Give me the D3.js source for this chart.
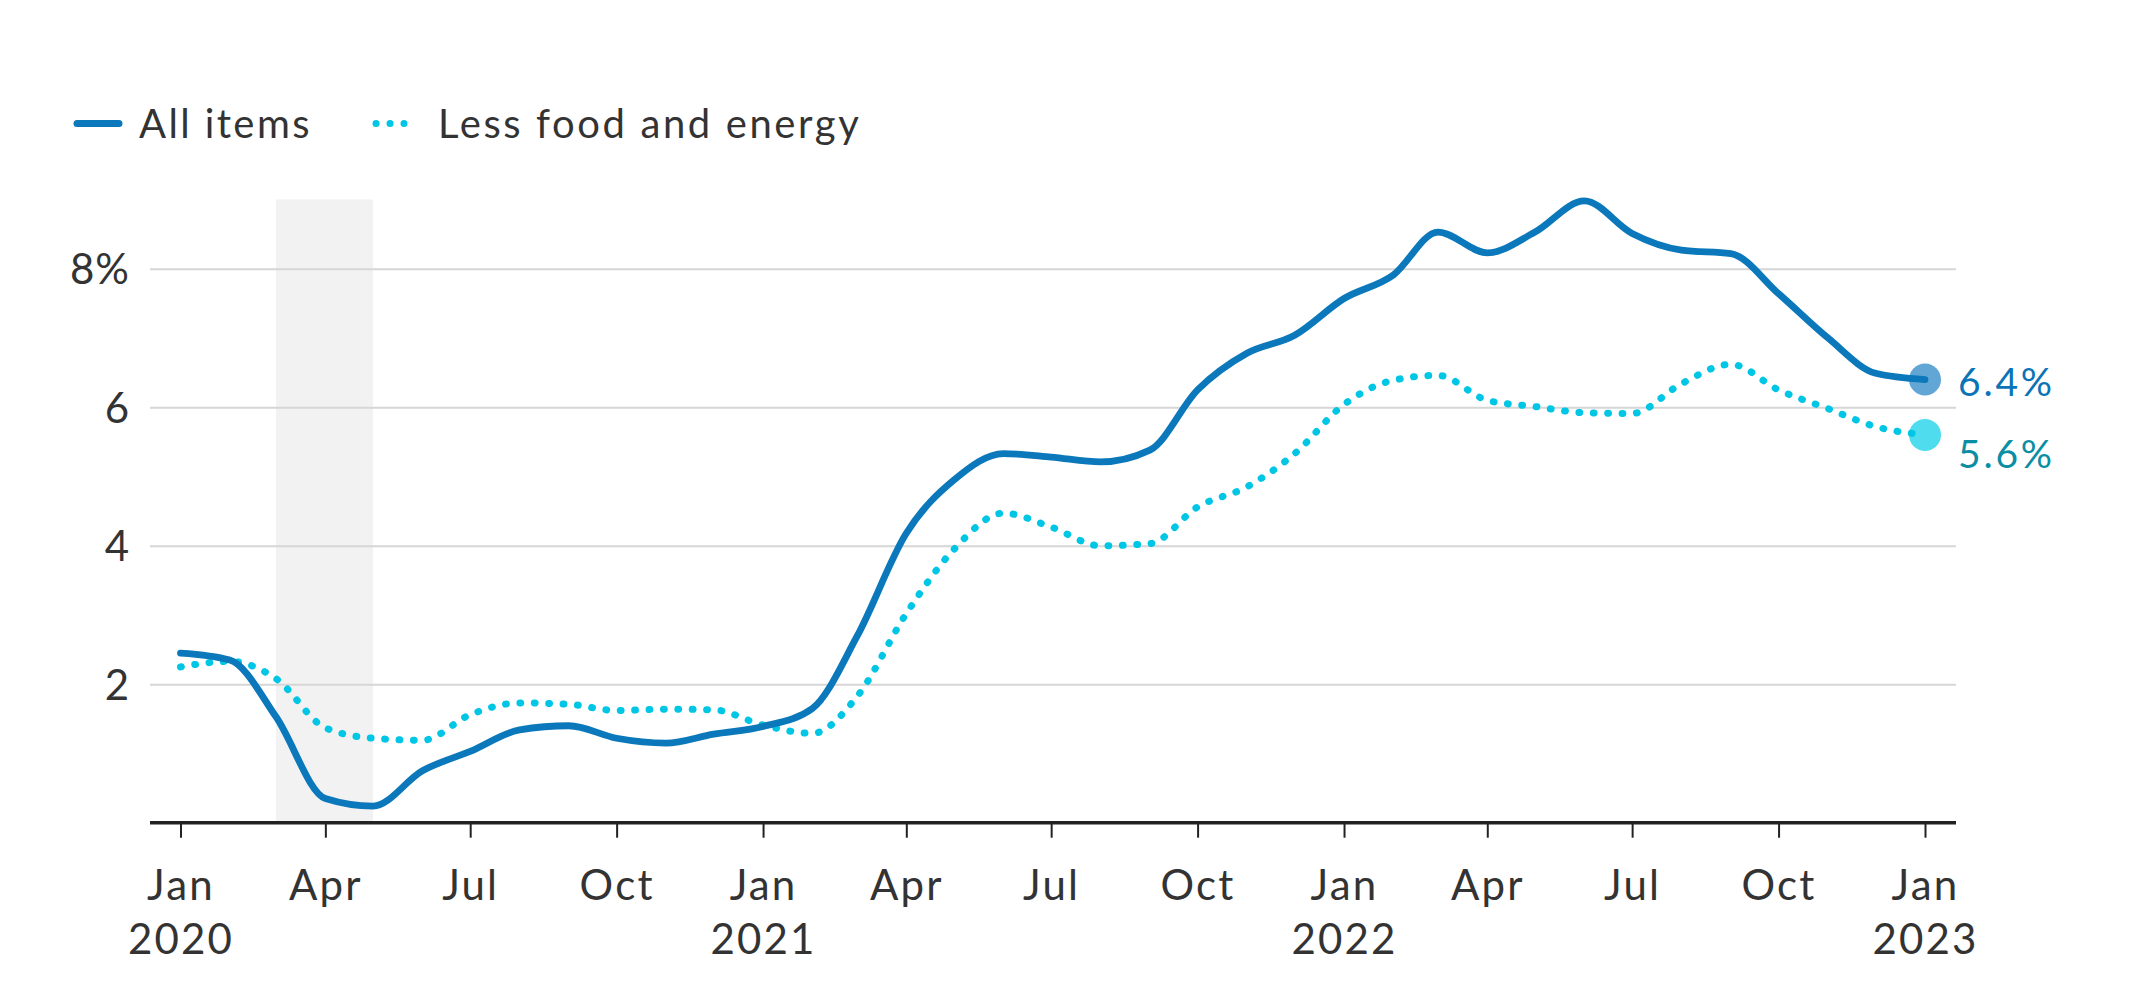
<!DOCTYPE html>
<html>
<head>
<meta charset="utf-8">
<script src="https://cdn.jsdelivr.net/npm/d3@7"></script>
<style>
  body { margin: 0; background: #fff; }
  text { font-family: Lato, "Open Sans", sans-serif; fill: #333; }
</style>
</head>
<body>
<svg id="chart" width="2136" height="999"></svg>
<script>
// monthly points, Jan 2020 .. Jan 2023 (first of month)
const months = d3.range(37).map((i) => new Date(2020, i, 1));
const allItems = [
  2.45, 2.35, 1.53, 0.35, 0.24, 0.75, 1.03, 1.34, 1.4, 1.22, 1.15, 1.28,
  1.39, 1.65, 2.69, 4.18, 4.95, 5.33, 5.28, 5.21, 5.38, 6.25, 6.78, 7.04,
  7.57, 7.91, 8.53, 8.23, 8.53, 8.98, 8.51, 8.27, 8.22, 7.64, 7.0, 6.49,
  6.4,
];
const lessFoodEnergy = [
  2.25, 2.33, 2.08, 1.37, 1.22, 1.19, 1.56, 1.73, 1.71, 1.62, 1.64, 1.63,
  1.41, 1.29, 1.82, 3.02, 3.95, 4.47, 4.27, 4.0, 4.03, 4.56, 4.85, 5.33,
  6.04, 6.39, 6.46, 6.1, 6.01, 5.92, 5.91, 6.34, 6.62, 6.25, 5.98, 5.72,
  5.6,
];
const seriesNames = ["All items", "Less food and energy"];
const endLabels = ["6.4%", "5.6%"];
const yTicks = [2, 4, 6, 8];
const xTicks = d3.range(0, 37, 3).map((i) => new Date(2020, i, 1));
const recession = [new Date(2020, 2, 1), new Date(2020, 4, 1)];

const plotLeft = 150, plotRight = 1956;
const svg = d3.select("#chart");

var x = d3.scaleTime()
  .domain([new Date(2020, 0, 1), new Date(2023, 0, 1)])
  .range([180.5, 1925]);
var y = d3.scaleLinear().domain([0, 9]).range([822.7, 199.5]);

// recession shading
svg.append("rect")
  .attr("x", x(recession[0]))
  .attr("width", x(recession[1]) - x(recession[0]))
  .attr("y", y(9))
  .attr("height", y(0) - y(9))
  .attr("fill", "#f2f2f2");

// y gridlines + labels
const yAxis = svg.append("g")
  .attr("transform", `translate(${plotLeft},0)`)
  .call(d3.axisLeft(y)
    .tickValues(yTicks)
    .tickSize(-(plotRight - plotLeft))
    .tickPadding(20)
    .tickFormat((d) => (d === 8 ? d + "%" : d)));
yAxis.select(".domain").remove();
yAxis.selectAll("line").attr("stroke", "#d6d6d6").attr("stroke-width", 2);
yAxis.selectAll("text")
  .attr("font-size", 42)
  .attr("dy", "0.36em")
  .style("font-family", "Lato, sans-serif")
  .style("letter-spacing", "1px")
  .attr("fill", "#333");

// x axis
const xAxis = svg.append("g")
  .attr("transform", `translate(0,${y(0)})`)
  .call(d3.axisBottom(x)
    .tickValues(xTicks)
    .tickSize(15)
    .tickPadding(32)
    .tickFormat(d3.timeFormat("%b")));
xAxis.select(".domain").remove();
xAxis.selectAll("line").attr("stroke", "#222").attr("stroke-width", 2);
xAxis.selectAll("text")
  .attr("font-size", 42)
  .style("font-family", "Lato, sans-serif")
  .style("letter-spacing", "2.2px")
  .attr("fill", "#333")
  .each(function (d) {
    if (d.getMonth() === 0) {
      d3.select(this).append("tspan")
        .attr("x", 0)
        .attr("dy", "1.3em")
        .text(d.getFullYear());
    }
  });
svg.append("line")
  .attr("x1", plotLeft).attr("x2", plotRight)
  .attr("y1", y(0)).attr("y2", y(0))
  .attr("stroke", "#222").attr("stroke-width", 3.5);

// lines
const line = d3.line()
  .x((d, i) => x(months[i]))
  .y((d) => y(d))
  .curve(d3.curveMonotoneX);

const last = months.length - 1;
svg.append("circle")
  .attr("cx", x(months[last])).attr("cy", y(allItems[last]))
  .attr("r", 16).attr("fill", "#62a6d6");
svg.append("circle")
  .attr("cx", x(months[last])).attr("cy", y(lessFoodEnergy[last]))
  .attr("r", 16).attr("fill", "#50dcef");

svg.append("path")
  .attr("d", line(lessFoodEnergy))
  .attr("fill", "none")
  .attr("stroke", "#00c6e6")
  .attr("stroke-width", 7)
  .attr("stroke-linecap", "round")
  .attr("stroke-dasharray", "0.8 13.6");

svg.append("path")
  .attr("d", line(allItems))
  .attr("fill", "none")
  .attr("stroke", "#0a78ba")
  .attr("stroke-width", 6.8)
  .attr("stroke-linecap", "round")
  .attr("stroke-linejoin", "round");

// end labels
svg.append("text")
  .attr("x", 1958).attr("y", y(allItems[last]) + 16)
  .attr("font-size", 39)
  .style("letter-spacing", "2.8px")
  .style("fill", "#0a74b6")
  .text(endLabels[0]);
svg.append("text")
  .attr("x", 1958).attr("y", y(lessFoodEnergy[last]) + 33)
  .attr("font-size", 39)
  .style("letter-spacing", "2.8px")
  .style("fill", "#0a8ea3")
  .text(endLabels[1]);

// legend
const legend = svg.append("g");
legend.append("line")
  .attr("x1", 77).attr("x2", 119).attr("y1", 123.5).attr("y2", 123.5)
  .attr("stroke", "#0a78ba").attr("stroke-width", 7)
  .attr("stroke-linecap", "round");
legend.append("text")
  .attr("x", 139).attr("y", 138).attr("font-size", 40)
  .style("letter-spacing", "2.4px")
  .text(seriesNames[0]);
legend.append("line")
  .attr("x1", 376).attr("x2", 404).attr("y1", 123.5).attr("y2", 123.5)
  .attr("stroke", "#00c6e6").attr("stroke-width", 7)
  .attr("stroke-linecap", "round")
  .attr("stroke-dasharray", "0.1 13.9");
legend.append("text")
  .attr("x", 438).attr("y", 138).attr("font-size", 40)
  .style("letter-spacing", "2.6px")
  .text(seriesNames[1]);
</script>
</body>
</html>
